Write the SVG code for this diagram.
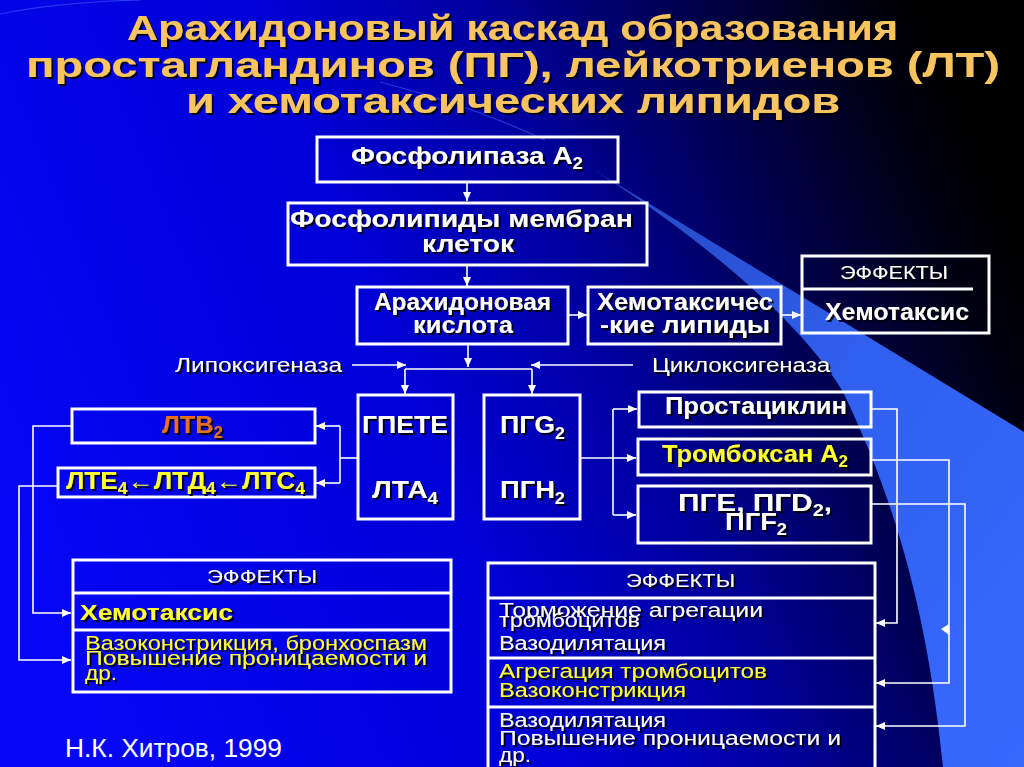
<svg xmlns="http://www.w3.org/2000/svg" width="1024" height="767" viewBox="0 0 1024 767">
<defs>
<linearGradient id="bg" x1="0" y1="0.65" x2="1" y2="0.35">
<stop offset="0" stop-color="#0606f6"/>
<stop offset="0.4" stop-color="#0000d8"/>
<stop offset="0.6" stop-color="#0000a0"/>
<stop offset="0.78" stop-color="#000052"/>
<stop offset="0.92" stop-color="#000018"/>
<stop offset="1" stop-color="#000000"/>
</linearGradient>
<linearGradient id="band" x1="0" y1="0" x2="1" y2="1">
<stop offset="0" stop-color="#2240b8"/>
<stop offset="0.5" stop-color="#3060ee"/>
<stop offset="1" stop-color="#3868ff"/>
</linearGradient>
<filter id="sh" x="-5%" y="-30%" width="115%" height="170%">
<feDropShadow dx="2" dy="2" stdDeviation="0.6" flood-color="#000" flood-opacity="0.9"/>
</filter>
<marker id="ah" markerUnits="userSpaceOnUse" markerWidth="10" markerHeight="8" refX="9" refY="4" orient="auto">
<path d="M0,0 L9,4 L0,8 Z" fill="#fff"/>
</marker>
<style>
.box{fill:none;stroke:#fff;stroke-width:3}
.div{stroke:#fff;stroke-width:3}
.t{font-family:"Liberation Sans",Arial,sans-serif;fill:#fff;filter:url(#sh)}
.b{font-weight:bold;font-size:24px}
.n{font-size:20px}
.y{fill:#ffff33}
.title{font-family:"Liberation Sans",Arial,sans-serif;fill:#f8c460;font-weight:bold;font-size:35px;filter:url(#sh)}
.conn{stroke:#fff;stroke-width:1.6;fill:none}
.arr{marker-end:url(#ah)}
</style>
</defs>

<g id="background">
<rect x="0" y="0" width="1024" height="767" fill="url(#bg)"/>
<path d="M545,140 L1024,432 L1024,767 L943,767 C930,640 905,520 843,392 C800,320 690,225 545,140 Z" fill="url(#band)"/>
<path d="M380,82 Q470,105 545,140" stroke="#5070ff" stroke-opacity="0.5" stroke-width="1.2" fill="none"/>
<path d="M0,14 Q60,2 140,0" stroke="#5070ff" stroke-opacity="0.5" stroke-width="1.2" fill="none"/>
</g>

<g id="title">
<text class="title" x="127" y="40" textLength="771" lengthAdjust="spacingAndGlyphs">Арахидоновый каскад образования</text>
<text class="title" x="26" y="77" textLength="974" lengthAdjust="spacingAndGlyphs">простагландинов (ПГ), лейкотриенов (ЛТ)</text>
<text class="title" x="186" y="113" textLength="654" lengthAdjust="spacingAndGlyphs">и хемотаксических липидов</text>
</g>

<g id="connectors">
<line class="conn arr" x1="467" y1="182" x2="467" y2="201"/>
<line class="conn arr" x1="467" y1="265" x2="467" y2="286"/>
<line class="conn arr" x1="568" y1="315" x2="587" y2="315"/>
<line class="conn arr" x1="781" y1="315" x2="801" y2="315"/>
<line class="conn arr" x1="468" y1="344" x2="468" y2="367"/>
<line class="conn" x1="405" y1="369" x2="532" y2="369"/>
<line class="conn arr" x1="405" y1="369" x2="405" y2="394"/>
<line class="conn arr" x1="532" y1="369" x2="532" y2="394"/>
<line class="conn arr" x1="352" y1="365" x2="406" y2="365"/>
<line class="conn arr" x1="633" y1="365" x2="531" y2="365"/>
<line class="conn" x1="358" y1="458" x2="340" y2="458"/>
<line class="conn" x1="340" y1="426" x2="340" y2="483"/>
<line class="conn arr" x1="340" y1="426" x2="316" y2="426"/>
<line class="conn arr" x1="340" y1="483" x2="316" y2="483"/>
<line class="conn" x1="580" y1="458" x2="613" y2="458"/>
<line class="conn" x1="613" y1="409" x2="613" y2="515"/>
<line class="conn arr" x1="613" y1="409" x2="637" y2="409"/>
<line class="conn arr" x1="613" y1="458" x2="636" y2="458"/>
<line class="conn arr" x1="613" y1="515" x2="636" y2="515"/>
<polyline class="conn arr" points="72,426 33,426 33,613 71,613"/>
<polyline class="conn arr" points="58,486 19,486 19,660 71,660"/>
<polyline class="conn arr" points="871,409 897,409 897,623 876,623"/>
<polyline class="conn arr" points="871,460 949,460 949,683 876,683"/>
<polyline class="conn arr" points="871,504 965,504 965,726 876,726"/>
<polygon points="941,629 949,624 949,635" fill="#fff"/>
</g>

<g id="labels">
<text class="t n" x="175" y="372" textLength="167" lengthAdjust="spacingAndGlyphs">Липоксигеназа</text>
<text class="t n" x="652" y="372" textLength="178" lengthAdjust="spacingAndGlyphs">Циклоксигеназа</text>
</g>

<g id="n1">
<rect class="box" x="317" y="137" width="301" height="45"/>
<text class="t b" x="351" y="164" textLength="232" lengthAdjust="spacingAndGlyphs">Фосфолипаза А<tspan dy="5" font-size="16">2</tspan></text>
</g>
<g id="n2">
<rect class="box" x="288" y="203" width="359" height="62"/>
<text class="t b" x="290" y="227" textLength="343" lengthAdjust="spacingAndGlyphs">Фосфолипиды мембран</text>
<text class="t b" x="422" y="252" textLength="92" lengthAdjust="spacingAndGlyphs">клеток</text>
</g>
<g id="n3">
<rect class="box" x="357" y="287" width="211" height="57"/>
<text class="t b" x="374" y="310" textLength="177" lengthAdjust="spacingAndGlyphs">Арахидоновая</text>
<text class="t b" x="413" y="333" textLength="100" lengthAdjust="spacingAndGlyphs">кислота</text>
</g>
<g id="n4">
<rect class="box" x="588" y="287" width="193" height="57"/>
<text class="t b" x="597" y="310" textLength="176" lengthAdjust="spacingAndGlyphs">Хемотаксичес</text>
<text class="t b" x="600" y="333" textLength="170" lengthAdjust="spacingAndGlyphs">-кие липиды</text>
</g>
<g id="n5">
<rect class="box" x="802" y="256" width="187" height="77"/>
<line class="div" x1="802" y1="289" x2="973" y2="289"/>
<text class="t" font-size="19" x="840" y="279" textLength="108" lengthAdjust="spacingAndGlyphs">ЭФФЕКТЫ</text>
<text class="t" font-size="23" font-weight="bold" x="825" y="320" textLength="144" lengthAdjust="spacingAndGlyphs">Хемотаксис</text>
</g>
<g id="n6">
<rect class="box" x="358" y="395" width="95" height="124"/>
<text class="t b" x="362" y="433" textLength="86" lengthAdjust="spacingAndGlyphs">ГПЕТЕ</text>
<text class="t b" x="372" y="498" textLength="66" lengthAdjust="spacingAndGlyphs">ЛТА<tspan dy="6" font-size="16">4</tspan></text>
</g>
<g id="n7">
<rect class="box" x="484" y="395" width="96" height="124"/>
<text class="t b" x="500" y="433" textLength="65" lengthAdjust="spacingAndGlyphs">ПГG<tspan dy="6" font-size="16">2</tspan></text>
<text class="t b" x="500" y="498" textLength="65" lengthAdjust="spacingAndGlyphs">ПГН<tspan dy="6" font-size="16">2</tspan></text>
</g>
<g id="n8">
<rect class="box" x="72" y="409" width="243" height="34"/>
<text class="t b" fill="#e8701e" style="fill:#e8701e" x="162" y="433" textLength="61" lengthAdjust="spacingAndGlyphs">ЛТВ<tspan dy="5" font-size="16">2</tspan></text>
</g>
<g id="n9">
<rect class="box" x="58" y="468" width="257" height="29"/>
<text class="t b y" x="66" y="489" textLength="239" lengthAdjust="spacingAndGlyphs">ЛТЕ<tspan dy="5" font-size="16">4</tspan><tspan dy="-5">←ЛТД</tspan><tspan dy="5" font-size="16">4</tspan><tspan dy="-5">←ЛТС</tspan><tspan dy="5" font-size="16">4</tspan></text>
</g>
<g id="n10">
<rect class="box" x="639" y="392" width="232" height="35"/>
<text class="t b" x="665" y="414" textLength="182" lengthAdjust="spacingAndGlyphs">Простациклин</text>
</g>
<g id="n11">
<rect class="box" x="638" y="439" width="233" height="36"/>
<text class="t b y" x="662" y="462" textLength="186" lengthAdjust="spacingAndGlyphs">Тромбоксан А<tspan dy="5" font-size="16">2</tspan></text>
</g>
<g id="n12">
<rect class="box" x="638" y="486" width="233" height="57"/>
<text class="t b" x="678" y="511" textLength="154" lengthAdjust="spacingAndGlyphs">ПГЕ, ПГD<tspan dy="5" font-size="16">2</tspan><tspan dy="-5">,</tspan></text>
<text class="t b" x="725" y="530" textLength="62" lengthAdjust="spacingAndGlyphs">ПГF<tspan dy="5" font-size="16">2</tspan></text>
</g>
<g id="n13">
<rect class="box" x="73" y="560" width="378" height="132"/>
<line class="div" x1="73" y1="593" x2="451" y2="593"/>
<line class="div" x1="73" y1="630" x2="451" y2="630"/>
<text class="t" font-size="19" x="207" y="583" textLength="110" lengthAdjust="spacingAndGlyphs">ЭФФЕКТЫ</text>
<text class="t y" font-size="22" font-weight="bold" x="80" y="620" textLength="153" lengthAdjust="spacingAndGlyphs">Хемотаксис</text>
<text class="t n y" x="85" y="650" textLength="342" lengthAdjust="spacingAndGlyphs">Вазоконстрикция, бронхоспазм</text>
<text class="t n y" x="85" y="665" textLength="342" lengthAdjust="spacingAndGlyphs">Повышение проницаемости и</text>
<text class="t n y" x="85" y="680" textLength="32" lengthAdjust="spacingAndGlyphs">др.</text>
</g>
<g id="n14">
<rect class="box" x="488" y="563" width="387" height="215"/>
<line class="div" x1="488" y1="598" x2="875" y2="598"/>
<line class="div" x1="488" y1="658" x2="875" y2="658"/>
<line class="div" x1="488" y1="707" x2="875" y2="707"/>
<text class="t" font-size="19" x="626" y="587" textLength="109" lengthAdjust="spacingAndGlyphs">ЭФФЕКТЫ</text>
<text class="t n" x="499" y="617" textLength="264" lengthAdjust="spacingAndGlyphs">Торможение агрегации</text>
<text class="t n" x="499" y="627" textLength="141" lengthAdjust="spacingAndGlyphs">тромбоцитов</text>
<text class="t n" x="499" y="650" textLength="167" lengthAdjust="spacingAndGlyphs">Вазодилятация</text>
<text class="t n y" x="499" y="678" textLength="268" lengthAdjust="spacingAndGlyphs">Агрегация тромбоцитов</text>
<text class="t n y" x="499" y="697" textLength="187" lengthAdjust="spacingAndGlyphs">Вазоконстрикция</text>
<text class="t n" x="499" y="727" textLength="167" lengthAdjust="spacingAndGlyphs">Вазодилятация</text>
<text class="t n" x="499" y="745" textLength="342" lengthAdjust="spacingAndGlyphs">Повышение проницаемости и</text>
<text class="t n" x="499" y="762" textLength="32" lengthAdjust="spacingAndGlyphs">др.</text>
</g>

<g id="author">
<text x="65" y="757" font-family="Liberation Sans, Arial, sans-serif" font-size="25" fill="#fff" textLength="217" lengthAdjust="spacingAndGlyphs">Н.К. Хитров, 1999</text>
</g>
</svg>
